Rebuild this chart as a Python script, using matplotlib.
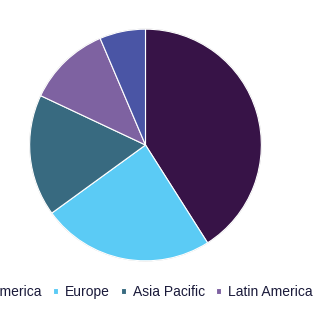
import matplotlib.pyplot as plt

regions = ['North America', 'Europe', 'Asia Pacific', 'Latin America', 'Middle East & Africa']
shares = [41.0, 24.0, 17.0, 11.6, 6.4]
colors = ['#371347', '#5bcbf5', '#386a80', '#7e62a1', '#4a55a5']

plt.rcParams['font.family'] = ['Liberation Sans', 'DejaVu Sans']

fig = plt.figure(figsize=(3.24, 3.14), dpi=100)
r = 117
ax = fig.add_axes([(145.5 - r) / 324, (314 - 145 - r) / 314, 2 * r / 324, 2 * r / 314])

wedges, _ = ax.pie(shares, colors=colors, startangle=90, counterclock=False,
                   wedgeprops=dict(edgecolor='white', linewidth=0.8))
ax.add_patch(plt.Circle((0, 0), 1.0, fill=False, edgecolor='#d0d0d0', linewidth=0.8, zorder=0))
ax.set_xlim(-1.01, 1.01)
ax.set_ylim(-1.01, 1.01)
ax.set_aspect('equal')
ax.axis('off')

# legend is wider than the figure, so both ends get clipped like in the original
fig.legend(wedges, regions, loc='center left', bbox_to_anchor=(-0.201, 0.07),
           ncol=5, frameon=False, fontsize=10, borderpad=0,
           handlelength=0.36, handleheight=0.36, handletextpad=0.45,
           columnspacing=0.85, labelcolor='#1a1a3a')

fig.savefig('out.png', dpi=100)
